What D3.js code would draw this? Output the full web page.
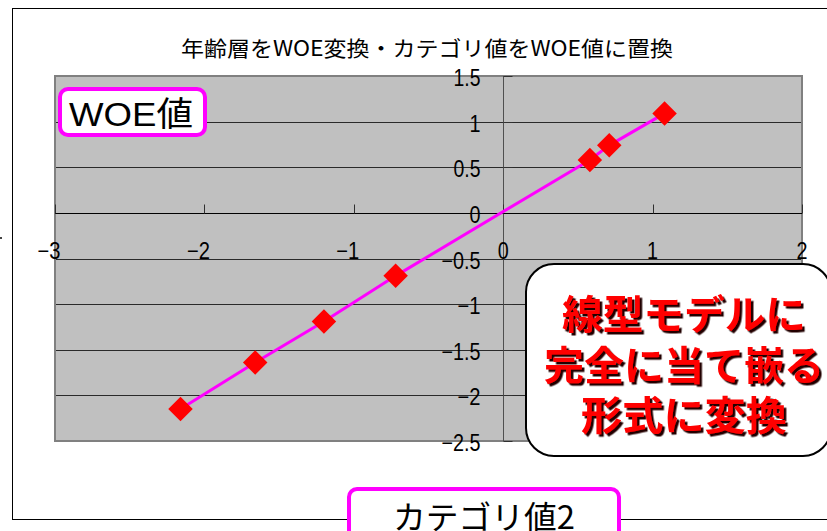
<!DOCTYPE html>
<html>
<head>
<meta charset="utf-8">
<script src="https://cdn.jsdelivr.net/npm/d3@7"></script>
<style>
html,body{margin:0;padding:0;background:#fff;}
svg{display:block;}
</style>
</head>
<body>
<svg id="chart" width="827" height="531"></svg>
<script>
// ---- data ----
const chartTitle = "年齢層をWOE変換・カテゴリ値をWOE値に置換";
const xValues = [-2.16, -1.66, -1.20, -0.72, 0.58, 0.71, 1.08];
const yValues = [-2.15, -1.64, -1.19, -0.69, 0.58, 0.74, 1.09];
const xTicks = [-3, -2, -1, 0, 1, 2];
const yTicks = [1.5, 1, 0.5, 0, -0.5, -1, -1.5, -2, -2.5];
const yAxisLabel = "WOE値";
const xAxisLabel = "カテゴリ値2";
const calloutLines = ["線型モデルに", "完全に当て嵌る", "形式に変換"];

const svg = d3.select("#chart");
const plot = {left: 55, right: 802, top: 76, bottom: 441};

const x = d3.scaleLinear().domain([-3, 2]).range([plot.left, plot.right]);
const y = d3.scaleLinear().domain([-2.5, 1.5]).range([plot.bottom, plot.top]);

// drop shadow filter for the callout text
const defs = svg.append("defs");
defs.append("filter").attr("id", "shadow").attr("x", "-10%").attr("y", "-20%")
  .attr("width", "130%").attr("height", "150%")
  .append("feDropShadow").attr("dx", 2.5).attr("dy", 2.5).attr("stdDeviation", 0.4)
  .attr("flood-color", "#200000").attr("flood-opacity", 1);

// outer chart frame (right side runs off canvas)
svg.append("rect").attr("x", 12.5).attr("y", 8.5).attr("width", 830).attr("height", 511)
  .attr("fill", "#fff").attr("stroke", "#000").attr("stroke-width", 1);

// clipped y-axis title fragment at far left
svg.append("rect").attr("x", 0).attr("y", 237).attr("width", 2).attr("height", 2).attr("fill", "#444");

// title
svg.append("text").attr("x", 427).attr("y", 47).attr("text-anchor", "middle")
  .attr("dominant-baseline", "central")
  .attr("font-family", "'Noto Sans CJK JP', sans-serif").attr("font-size", 21)
  .attr("textLength", 492).attr("lengthAdjust", "spacingAndGlyphs")
  .attr("fill", "#000").text(chartTitle);

// plot area
svg.append("rect").attr("x", plot.left).attr("y", plot.top)
  .attr("width", plot.right - plot.left).attr("height", plot.bottom - plot.top)
  .attr("fill", "#c0c0c0");

// gridlines
svg.append("g").selectAll("line").data(yTicks.filter(d => d !== 1.5 && d !== -2.5)).join("line")
  .attr("x1", plot.left).attr("x2", plot.right)
  .attr("y1", d => Math.round(y(d)) + 0.5).attr("y2", d => Math.round(y(d)) + 0.5)
  .attr("stroke", "#2a2a2a").attr("stroke-width", 1);

// plot border
svg.append("rect").attr("x", plot.left).attr("y", plot.top)
  .attr("width", plot.right - plot.left).attr("height", plot.bottom - plot.top)
  .attr("fill", "none").attr("stroke", "#808080").attr("stroke-width", 2);

// vertical axis at x = 0
const x0 = Math.round(x(0)) + 0.5;
svg.append("line").attr("x1", x0).attr("x2", x0).attr("y1", plot.top).attr("y2", plot.bottom)
  .attr("stroke", "#505050").attr("stroke-width", 1);
svg.append("g").selectAll("line").data(yTicks).join("line")
  .attr("x1", x0).attr("x2", x0 + 9)
  .attr("y1", d => Math.round(y(d)) + 0.5).attr("y2", d => Math.round(y(d)) + 0.5)
  .attr("stroke", "#303030").attr("stroke-width", 1);

// horizontal axis at y = 0
const y0 = Math.round(y(0)) + 0.5;
svg.append("line").attr("x1", plot.left).attr("x2", plot.right).attr("y1", y0).attr("y2", y0)
  .attr("stroke", "#000").attr("stroke-width", 1);
svg.append("g").selectAll("line").data(xTicks).join("line")
  .attr("x1", d => Math.round(x(d)) + 0.5).attr("x2", d => Math.round(x(d)) + 0.5)
  .attr("y1", y0).attr("y2", y0 - 9)
  .attr("stroke", "#303030").attr("stroke-width", 1);

// tick label formatting and widths (narrow gothic digits)
const fmt = d => (d < 0 ? "\u2212" : "") + String(Math.abs(d));
const labW = s => Array.from(s).reduce((a, c) => a + (c === "\u2212" ? 12 : c === "." ? 5 : 11), 0);

svg.append("g").selectAll("text").data(yTicks).join("text")
  .attr("x", x0 - 23).attr("y", d => y(d) + 2)
  .attr("text-anchor", "end").attr("dominant-baseline", "central")
  .attr("font-family", "'Liberation Sans', Arial, sans-serif").attr("font-size", 23)
  .attr("textLength", d => labW(fmt(d))).attr("lengthAdjust", "spacingAndGlyphs")
  .attr("fill", "#000").text(fmt);

svg.append("g").selectAll("text").data(xTicks).join("text")
  .attr("x", d => x(d) - (d < 0 ? 6 : 0)).attr("y", 251)
  .attr("text-anchor", "middle").attr("dominant-baseline", "central")
  .attr("font-family", "'Liberation Sans', Arial, sans-serif").attr("font-size", 23)
  .attr("textLength", d => labW(fmt(d))).attr("lengthAdjust", "spacingAndGlyphs")
  .attr("fill", "#000").text(fmt);

// series line
const pts = xValues.map((v, i) => [v, yValues[i]]);
svg.append("path").datum(pts)
  .attr("d", d3.line().x(d => x(d[0])).y(d => y(d[1])))
  .attr("fill", "none").attr("stroke", "#ff00ff").attr("stroke-width", 3);

// diamond markers
svg.append("g").selectAll("path").data(pts).join("path")
  .attr("d", d3.symbol(d3.symbolSquare, 300))
  .attr("transform", d => `translate(${x(d[0])},${y(d[1])}) rotate(45)`)
  .attr("fill", "#ff0000");

// WOE値 label box
svg.append("rect").attr("x", 60).attr("y", 89).attr("width", 145).attr("height", 46).attr("rx", 8)
  .attr("fill", "#fff").attr("stroke", "#ff00ff").attr("stroke-width", 4);
svg.append("text").attr("x", 69).attr("y", 114).attr("dominant-baseline", "central")
  .attr("font-family", "'Liberation Sans', 'Noto Sans CJK JP', sans-serif").attr("font-size", 34)
  .attr("textLength", 124).attr("lengthAdjust", "spacingAndGlyphs")
  .attr("fill", "#000").text(yAxisLabel);

// カテゴリ値2 label box
svg.append("rect").attr("x", 349).attr("y", 489).attr("width", 270).attr("height", 60).attr("rx", 8)
  .attr("fill", "#fff").attr("stroke", "#ff00ff").attr("stroke-width", 4);
svg.append("text").attr("x", 393).attr("y", 515).attr("dominant-baseline", "central")
  .attr("font-family", "'Noto Sans CJK JP', sans-serif").attr("font-size", 32)
  .attr("textLength", 182).attr("lengthAdjust", "spacingAndGlyphs")
  .attr("fill", "#000").text(xAxisLabel);

// callout box
svg.append("rect").attr("x", 526).attr("y", 264).attr("width", 305).attr("height", 192).attr("rx", 28)
  .attr("fill", "#fff").attr("stroke", "#000").attr("stroke-width", 2);
const cy = [312, 363, 413];
const cw = [244, 280, 206];
svg.append("g").attr("font-family", "'Noto Sans CJK JP', sans-serif")
  .attr("font-weight", "bold").attr("font-size", 40).attr("text-anchor", "middle")
  .attr("filter", "url(#shadow)")
  .selectAll("text").data(calloutLines).join("text")
  .attr("x", 684).attr("y", (d, i) => cy[i]).attr("dominant-baseline", "central")
  .attr("textLength", (d, i) => cw[i]).attr("lengthAdjust", "spacingAndGlyphs")
  .attr("fill", "#ff0000").text(d => d);
</script>
</body>
</html>
